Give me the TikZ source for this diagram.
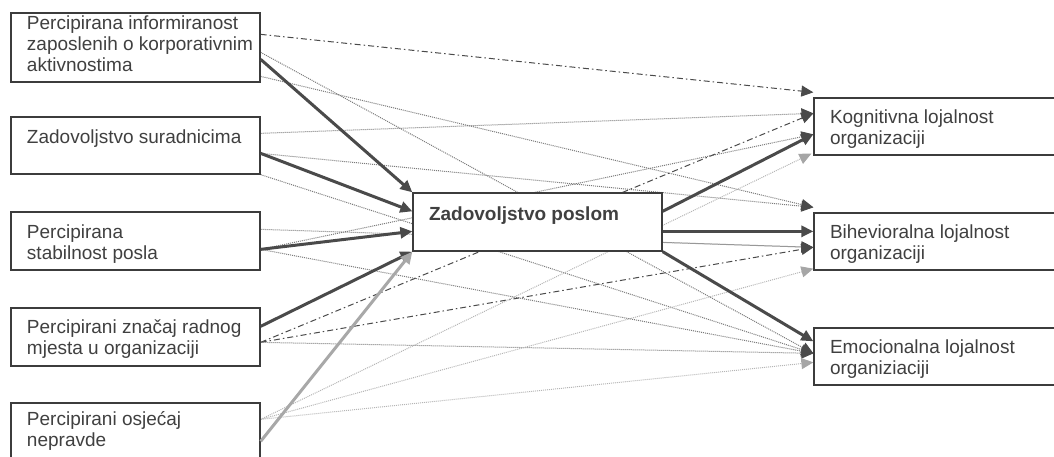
\documentclass[tikz,border=0pt]{standalone}
\usepackage{fontspec}
\setmainfont{Liberation Sans}
\usetikzlibrary{arrows.meta}
\pgfdeclarelayer{bg}
\pgfsetlayers{bg,main}

\definecolor{boxline}{HTML}{3C3C3C}
\definecolor{txt}{HTML}{404040}
\definecolor{strong}{HTML}{4A4A4A}
\definecolor{weak}{HTML}{7A7A7A}
\definecolor{faint}{HTML}{B5B5B5}
\definecolor{fainthead}{HTML}{A6A6A6}
\definecolor{nepline}{HTML}{A8A8A8}

\newcommand{\boxtext}[3]{\parbox[c][#1][t]{249pt}{\raggedright\leftskip=16pt\vspace*{#2}#3}}

\tikzset{
  box/.style={draw=boxline, line width=1.3pt, fill=white, inner sep=0pt, text=txt,
    font=\fontsize{19}{21}\selectfont},
  strongarr/.style={draw=strong, line width=3pt, -{Triangle[length=12pt,width=11pt]}},
  neparr/.style={draw=nepline, line width=3pt, -{Triangle[length=12pt,width=11pt]}},
  weakarr/.style={draw=weak, line width=1pt, dash pattern=on 1pt off 1pt,
    -{Triangle[length=12pt,width=11pt,color=strong]}},
  chainarr/.style={draw=strong, line width=1pt, dash pattern=on 6pt off 3pt on 1.5pt off 3pt,
    -{Triangle[length=12pt,width=11pt,color=strong]}},
  faintarr/.style={draw=faint, line width=1pt, dash pattern=on 1pt off 1pt,
    -{Triangle[length=12pt,width=11pt,color=fainthead]}}
}

\begin{document}
\begin{tikzpicture}[x=1pt,y=-1pt]
    \useasboundingbox (0,0) rectangle (1054,457);

    \node[box] (inf) at (135.5,47.5) {\boxtext{69pt}{3pt}{Percipirana informiranost\\zaposlenih o korporativnim\\aktivnostima}};
    \node[box] (sur) at (135.5,145.5) {\boxtext{57pt}{13pt}{Zadovoljstvo suradnicima}};
    \node[box] (stab) at (135.5,241) {\boxtext{58pt}{13pt}{Percipirana\\stabilnost posla}};
    \node[box] (znac) at (135.5,337) {\boxtext{58pt}{12pt}{Percipirani značaj radnog\\mjesta u organizaciji}};
    \node[box] (nepr) at (135.5,432) {\boxtext{58pt}{9pt}{Percipirani osjećaj\\nepravde}};
    \node[box] (posao) at (537.5,222) {\boxtext{58pt}{14pt}{\textbf{Zadovoljstvo poslom}}};
    \node[box] (kog) at (938.5,126.5) {\boxtext{57pt}{12pt}{Kognitivna lojalnost\\organizaciji}};
    \node[box] (bih) at (938.5,241.5) {\boxtext{57pt}{12pt}{Bihevioralna lojalnost\\organizaciji}};
    \node[box] (emo) at (938.5,356.5) {\boxtext{57pt}{12pt}{Emocionalna lojalnost\\organiziaciji}};

    \begin{pgfonlayer}{bg}
        \draw[chainarr] ([yshift=-22pt]inf.north east) -- ([yshift=5pt]kog.north west);
        \draw[weakarr] ([yshift=-40pt]inf.north east) -- ([yshift=-26pt]emo.north west);
        \draw[weakarr] ([yshift=-64pt]inf.north east) -- ([yshift=5pt]bih.north west);
        \draw[weakarr] ([yshift=-17pt]sur.north east) -- ([yshift=-16pt]kog.north west);
        \draw[weakarr] ([yshift=-37pt]sur.north east) -- ([yshift=5pt]bih.north west);
        \draw[weakarr] (sur.south east) -- ([yshift=-26pt]emo.north west);
        \draw[weakarr] ([yshift=-18pt]stab.north east) -- ([yshift=-35pt]bih.north west);
        \draw[weakarr] ([yshift=-38pt]stab.north east) -- ([yshift=-37pt]kog.north west);
        \draw[weakarr] ([yshift=-38pt]stab.north east) -- ([yshift=-26pt]emo.north west);
        \draw[chainarr] ([yshift=-35pt]znac.north east) -- ([yshift=-16pt]kog.north west);
        \draw[chainarr] ([yshift=-35pt]znac.north east) -- ([yshift=-35pt]bih.north west);
        \draw[weakarr] ([yshift=-35pt]znac.north east) -- ([yshift=-26pt]emo.north west);
        \draw[faintarr] ([yshift=-17pt]nepr.north east) -- ([xshift=-2pt,yshift=2pt]kog.south west);
        \draw[faintarr] ([yshift=-17pt]nepr.north east) -- ([yshift=2pt]bih.south west);
        \draw[faintarr] ([yshift=-17pt]nepr.north east) -- ([yshift=-35pt]emo.north west);
        \draw[weakarr] ([yshift=-50pt]posao.north east) -- ([yshift=-35pt]bih.north west);
    \end{pgfonlayer}

    \draw[strongarr] ([yshift=-47pt]inf.north east) -- (posao.north west);
    \draw[strongarr] ([yshift=-37pt]sur.north east) -- ([yshift=-19pt]posao.north west);
    \draw[strongarr] ([yshift=-38pt]stab.north east) -- ([yshift=-39pt]posao.north west);
    \draw[strongarr] ([yshift=-19pt]znac.north east) -- (posao.south west);
    \draw[neparr] ([yshift=-39pt]nepr.north east) -- (posao.south west);
    \draw[strongarr] ([yshift=-19pt]posao.north east) -- ([yshift=-37pt]kog.north west);
    \draw[strongarr] ([yshift=-39pt]posao.north east) -- ([yshift=-19pt]bih.north west);
    \draw[strongarr] (posao.south east) -- ([yshift=-14pt]emo.north west);
\end{tikzpicture}
\end{document}
